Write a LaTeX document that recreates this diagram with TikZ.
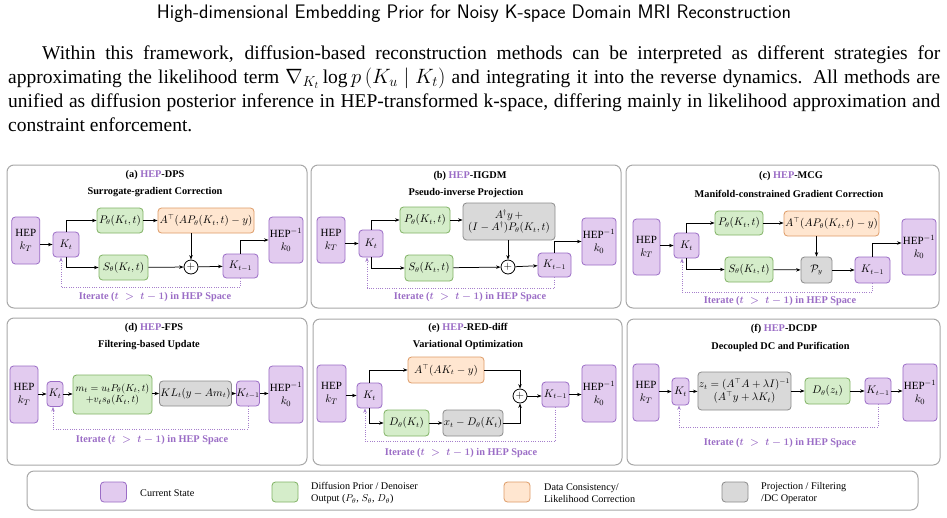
\documentclass[tikz,border=0pt]{standalone}
\usepackage{fontspec}
\setmainfont{Liberation Serif}
\usepackage{amsmath}
\usepackage{graphicx}
\usetikzlibrary{arrows.meta,calc}
\definecolor{stfill}{HTML}{E2CBEF}
\definecolor{stdraw}{HTML}{9B6DC6}
\definecolor{grfill}{HTML}{D5EDCA}
\definecolor{grdraw}{HTML}{82B366}
\definecolor{orfill}{HTML}{FFE6D0}
\definecolor{ordraw}{HTML}{DE9C68}
\definecolor{gyfill}{HTML}{D9D9D9}
\definecolor{gydraw}{HTML}{8C8C8C}
\definecolor{pangray}{HTML}{A8A8A8}
\definecolor{hepcol}{HTML}{9B6DC6}
\definecolor{fbcol}{HTML}{A67FCC}
\tikzset{
  sz/.style 2 args={minimum width=#1pt, minimum height=#2pt},
  base/.style={rounded corners=3.5pt, line width=0.8pt, inner sep=1pt, align=center},
  stbox/.style={base, fill=stfill, draw=stdraw},
  grbox/.style={base, fill=grfill, draw=grdraw},
  orbox/.style={base, fill=orfill, draw=ordraw},
  gybox/.style={base, fill=gyfill, draw=gydraw},
  hepf/.style={font=\fontsize{11}{13}\selectfont},
  arr/.style={-{Stealth[length=4.5pt,width=3.4pt]}, line width=0.75pt},
  fb/.style={draw=fbcol, line width=0.9pt, dash pattern=on 1pt off 1.3pt, -{Stealth[length=4.5pt,width=3.4pt]}},
  panel/.style={draw=pangray, line width=1pt, rounded corners=7pt},
  ttl/.style={font=\bfseries\fontsize{10.3}{12}\selectfont, inner sep=0pt},
  iter/.style={font=\bfseries\boldmath\fontsize{10.3}{12}\selectfont, text=hepcol, inner sep=0pt},
  plusc/.style={circle, draw, line width=0.8pt, minimum size=14pt, inner sep=0pt, fill=white},
  legt/.style={anchor=west, align=left, inner sep=0pt, font=\fontsize{10.2}{12.5}\selectfont},
  para/.style={anchor=base west, inner sep=0pt, font=\fontsize{19.5}{24}\selectfont},
}
\begin{document}
\begin{tikzpicture}[x=1pt, y=-1pt, font=\fontsize{10.7}{12.7}\selectfont]
\useasboundingbox[fill=white] (0,0) rectangle (947,517);

% ---------- header ----------
\node[inner sep=0pt] (title) at (474,14) {\resizebox{634pt}{!}{\sffamily\fontsize{16}{18}\selectfont High-dimensional Embedding Prior for Noisy K-space Domain MRI Reconstruction}};
\node[para] (p1) at (42,59) {\hbox to 898pt{Within this framework, diffusion-based reconstruction methods can be interpreted as different strategies for}};
\node[para] (p2) at (8,83) {\hbox to 932pt{approximating the likelihood term $\nabla_{K_t}\log p\left(K_u \mid K_t\right)$ and integrating it into the reverse dynamics. All methods are}};
\node[para] (p3) at (8,107) {\hbox to 932pt{unified as diffusion posterior inference in HEP-transformed k-space, differing mainly in likelihood approximation and}};
\node[para] (p4) at (8,131) {constraint enforcement.};

% ---------- (a) ----------
\draw[panel] (7,165) rectangle (307,308);
\node[ttl] (tA) at (155,175) {(a) \textcolor{hepcol}{HEP}-DPS};
\node[ttl] (uA) at (155,192) {Surrogate-gradient Correction};
\node[stbox, hepf, sz={28}{47}] (hepA) at (25.8,240.5) {HEP\\$k_T$};
\node[stbox, sz={26}{25}] (ktA) at (66,244.5) {$K_t$};
\node[grbox, sz={46}{25}] (pA) at (120,220.5) {$P_\theta(K_t,t)$};
\node[orbox, sz={96}{25}] (atA) at (206,220.5) {$A^{\top}(AP_\theta(K_t,t)-y)$};
\node[grbox, sz={49}{25}] (sA) at (123.5,267.5) {$S_\theta(K_t,t)$};
\node[plusc] (plA) at (191,267) {$+$};
\node[stbox, sz={35}{24}] (kmA) at (240.5,266) {$K_{t-1}$};
\node[stbox, hepf, sz={32}{46}] (hiA) at (286,240) {HEP$^{-1}$\\$k_0$};
\draw[arr] (hepA.east |- ktA.west) -- (ktA.west);
\draw[arr] (ktA.north) |- (pA.west);
\draw[arr] (ktA.south) |- (sA.west);
\draw[arr] (pA) -- (atA);
\draw[arr] (sA) -- (plA);
\draw[arr] (atA.south -| plA) -- (plA.north);
\draw[arr] (plA) -- (kmA);
\draw[arr] (kmA.north) |- (hiA.west);
\coordinate (fA) at (0,287);
\draw[fb] (kmA.south) -- (kmA.south |- fA) -| ([xshift=-5pt]ktA.south);
\node[iter] (iA) at (155,297) {Iterate ($t\;>\;t-1$) in HEP Space};

% ---------- (b) ----------
\draw[panel] (311,165) rectangle (621,308);
\node[ttl] (tB) at (470,176) {(b) \textcolor{hepcol}{HEP}-ΠGDM};
\node[ttl] (uB) at (466,193) {Pseudo-inverse Projection};
\node[stbox, hepf, sz={28}{46}] (hepB) at (331,240) {HEP\\$k_T$};
\node[stbox, sz={24}{27}] (ktB) at (371,243.5) {$K_t$};
\node[grbox, sz={50}{26}] (pB) at (425,220) {$P_\theta(K_t,t)$};
\node[gybox, sz={92}{37}] (gB) at (509,221.5) {$A^{\dagger}y\,+$\\$(I-A^{\dagger})P_\theta(K_t,t)$};
\node[grbox, sz={48}{26}] (sB) at (429,268) {$S_\theta(K_t,t)$};
\node[plusc] (plB) at (508,267) {$+$};
\node[stbox, sz={33}{24}] (kmB) at (554.5,265) {$K_{t-1}$};
\node[stbox, hepf, sz={32}{47}] (hiB) at (599,241.5) {HEP$^{-1}$\\$k_0$};
\draw[arr] (hepB.east |- ktB.west) -- (ktB.west);
\draw[arr] (ktB.north) |- (pB.west);
\draw[arr] (ktB.south) |- (sB.west);
\draw[arr] (pB) -- (pB -| gB.west);
\draw[arr] (sB) -- (plB);
\draw[arr] (gB.south -| plB) -- (plB.north);
\draw[arr] (plB) -- (kmB);
\draw[arr] (kmB.north) |- (hiB.west);
\coordinate (fB) at (0,288);
\draw[fb] (kmB.south) -- (kmB.south |- fB) -| ([xshift=-4pt]ktB.south);
\node[iter] (iB) at (470,297) {Iterate ($t\;>\;t-1$) in HEP Space};

% ---------- (c) ----------
\draw[panel] (626,165) rectangle (939,308);
\node[ttl] (tC) at (791,176) {(c) \textcolor{hepcol}{HEP}-MCG};
\node[ttl] (uC) at (789,194) {Manifold-constrained Gradient Correction};
\node[stbox, hepf, sz={27}{56}] (hepC) at (646.5,247) {HEP\\$k_T$};
\node[stbox, sz={25}{25}] (ktC) at (686.5,245.5) {$K_t$};
\node[grbox, sz={48}{24}] (pC) at (739,223) {$P_\theta(K_t,t)$};
\node[orbox, sz={95}{25}] (atC) at (831.5,223.5) {$A^{\top}(AP_\theta(K_t,t)-y)$};
\node[grbox, sz={48}{25}] (sC) at (749,269.5) {$S_\theta(K_t,t)$};
\node[gybox, sz={31}{26}] (pyC) at (816.5,270) {$\mathcal{P}_y$};
\node[stbox, sz={35}{26}] (kmC) at (872.5,270) {$K_{t-1}$};
\node[stbox, hepf, sz={32}{56}] (hiC) at (919,247) {HEP$^{-1}$\\$k_0$};
\draw[arr] (hepC.east |- ktC.west) -- (ktC.west);
\draw[arr] (ktC.north) |- (pC.west);
\draw[arr] (ktC.south) |- (sC.west);
\draw[arr] (pC) -- (pC -| atC.west);
\draw[arr] (sC) -- (pyC);
\draw[arr] (atC.south -| pyC) -- (pyC.north);
\draw[arr] (pyC) -- (kmC);
\draw[arr] (kmC.north) |- ([yshift=4pt]hiC.west);
\coordinate (fC) at (0,292);
\draw[fb] (kmC.south) -- (kmC.south |- fC) -| ([xshift=-4.5pt]ktC.south);
\node[iter] (iC) at (780,301) {Iterate ($t\;>\;t-1$) in HEP Space};

% ---------- (d) ----------
\draw[panel] (7,318) rectangle (307,465);
\node[ttl] (tD) at (154,328) {(d) \textcolor{hepcol}{HEP}-FPS};
\node[ttl] (uD) at (149,345) {Filtering-based Update};
\node[stbox, hepf, sz={28}{57}] (hepD) at (24,394.5) {HEP\\$k_T$};
\node[stbox, sz={16}{25}] (ktD) at (55,394) {$K_t$};
\node[grbox, sz={79}{39}, inner sep=0pt, font=\fontsize{9.6}{11.5}\selectfont] (mD) at (112.5,394.5) {$m_t=u_tP_\theta(K_t,t)$\\$+v_ts_\theta(K_t,t)$};
\node[gybox, sz={69}{25}] (klD) at (195.5,393.5) {$KL_t(y-Am_t)$};
\node[stbox, sz={22}{25}, inner sep=0pt] (kmD) at (248,393.5) {$K_{t-1}$};
\node[stbox, hepf, sz={32}{57}] (hiD) at (286,394.5) {HEP$^{-1}$\\$k_0$};
\draw[arr] (hepD.east |- ktD.west) -- (ktD.west);
\draw[arr] (ktD.east) -- (ktD.east -| mD.west);
\draw[arr] (mD.east |- klD.west) -- (klD.west);
\draw[arr] (klD) -- (kmD);
\draw[arr] (kmD.east) -- (kmD.east -| hiD.west);
\coordinate (fD) at (0,429);
\draw[fb] (kmD.south) -- (kmD.south |- fD) -| ([xshift=-2pt]ktD.south);
\node[iter] (iD) at (152,440) {Iterate ($t\;>\;t-1$) in HEP Space};

% ---------- (e) ----------
\draw[panel] (313,319) rectangle (622,465);
\node[ttl] (tE) at (468,328) {(e) \textcolor{hepcol}{HEP}-RED-diff};
\node[ttl] (uE) at (468,345) {Variational Optimization};
\node[stbox, hepf, sz={29}{57}] (hepE) at (331.5,393.5) {HEP\\$k_T$};
\node[stbox, sz={25}{25}] (ktE) at (369.5,395.5) {$K_t$};
\node[orbox, sz={76}{26}] (atE) at (446,370) {$A^{\top}(AK_t-y)$};
\node[grbox, sz={45}{26}] (dE) at (406.5,423) {$D_\theta(K_t)$};
\node[gybox, sz={58}{26}] (xE) at (473,423) {$x_t-D_\theta(K_t)$};
\node[plusc] (plE) at (520,396) {$+$};
\node[stbox, sz={27}{25}] (kmE) at (555.5,394.5) {$K_{t-1}$};
\node[stbox, hepf, sz={32}{57}] (hiE) at (599,393.5) {HEP$^{-1}$\\$k_0$};
\draw[arr] (hepE.east |- ktE.west) -- (ktE.west);
\draw[arr] (ktE.north) |- (atE.west);
\draw[arr] (ktE.south) |- (dE.west);
\draw[arr] (dE) -- (xE);
\draw[arr] (atE.east) -| (plE.north);
\draw[arr] (xE.east) -| (plE.south);
\draw[arr] (plE) -- (plE -| kmE.west);
\draw[arr] (kmE.east) -- (kmE.east -| hiE.west);
\coordinate (fE) at (0,441);
\draw[fb] (kmE.south) -- (kmE.south |- fE) -| ([xshift=-4.5pt]ktE.south);
\node[iter] (iE) at (461,453) {Iterate ($t\;>\;t-1$) in HEP Space};

% ---------- (f) ----------
\draw[panel] (627,319) rectangle (940,465);
\node[ttl] (tF) at (784,329) {(f) \textcolor{hepcol}{HEP}-DCDP};
\node[ttl] (uF) at (780.5,347) {Decoupled DC and Purification};
\node[stbox, hepf, sz={26}{57}] (hepF) at (646,392.5) {HEP\\$k_T$};
\node[stbox, sz={17}{27}, inner sep=0pt] (ktF) at (680.5,391.5) {$K_t$};
\node[gybox, sz={93}{38}] (zF) at (744.5,391) {$z_t=(A^{\top}A+\lambda I)^{-1}$\\$(A^{\top}y+\lambda K_t)$};
\node[grbox, sz={45}{26}] (dF) at (827.5,391) {$D_\theta(z_t)$};
\node[stbox, sz={26}{26}, inner sep=0pt] (kmF) at (878,391) {$K_{t-1}$};
\node[stbox, hepf, sz={32}{57}] (hiF) at (920,392.5) {HEP$^{-1}$\\$k_0$};
\draw[arr] (hepF.east |- ktF.west) -- (ktF.west);
\draw[arr] (ktF) -- (zF);
\draw[arr] (zF) -- (dF);
\draw[arr] (dF) -- (kmF);
\draw[arr] (kmF) -- (kmF -| hiF.west);
\coordinate (fF) at (0,427);
\draw[fb] (kmF.south) -- (kmF.south |- fF) -| ([xshift=-1.5pt]ktF.south);
\node[iter] (iF) at (780,443) {Iterate ($t\;>\;t-1$) in HEP Space};

% ---------- legend ----------
\draw[panel] (27,471) rectangle (918,510);
\node[stbox, sz={26}{20}] (lgA) at (113.5,492) {};
\node[legt] (ltA) at (140,493) {Current State};
\node[grbox, sz={26}{20}] (lgB) at (285,492) {};
\node[legt] (ltB) at (311,493) {Diffusion Prior / Denoiser\\Output ($P_\theta$, $S_\theta$, $D_\theta$)};
\node[orbox, sz={26}{20}] (lgC) at (517,492) {};
\node[legt] (ltC) at (544,493) {Data Consistency/\\Likelihood Correction};
\node[gybox, sz={26}{20}] (lgD) at (735,492) {};
\node[legt] (ltD) at (761,493) {Projection / Filtering\\/DC Operator};
\end{tikzpicture}
\end{document}
